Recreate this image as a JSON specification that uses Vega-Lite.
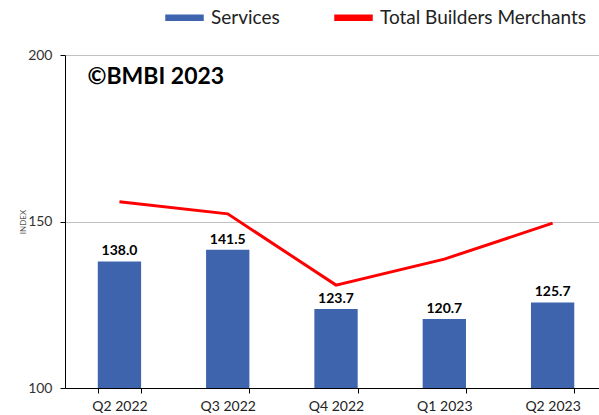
{
  "$schema": "https://vega.github.io/schema/vega-lite/v6.json",
  "width": 534,
  "height": 333,
  "autosize": "none",
  "padding": {"left": 65, "top": 55, "right": 0, "bottom": 27},
  "background": "white",
  "config": {"font": "Lato", "view": {"stroke": null}},
  "data": {"values": [
    {"quarter": "Q2 2022", "services": 138.0, "total": 155.9},
    {"quarter": "Q3 2022", "services": 141.5, "total": 152.3},
    {"quarter": "Q4 2022", "services": 123.7, "total": 130.9},
    {"quarter": "Q1 2023", "services": 120.7, "total": 138.7},
    {"quarter": "Q2 2023", "services": 125.7, "total": 149.5}
  ]},
  "encoding": {
    "x": {"field": "quarter", "type": "nominal", "sort": null,
      "scale": {"domain": ["Q2 2022", "Q3 2022", "Q4 2022", "Q1 2023", "Q2 2023"], "paddingInner": 0.6, "paddingOuter": 0.2655, "align": 0.57},
      "axis": {"title": null, "labelAngle": 0, "labelFontSize": 14, "labelColor": "#222", "labelPadding": 6, "domainColor": "#000", "tickColor": "#000", "tickSize": 5, "tickBand": "extent", "grid": false}}
  },
  "layer": [
    {
      "mark": {"type": "bar"},
      "encoding": {
        "y": {"field": "services", "type": "quantitative",
          "scale": {"domain": [100, 200]},
          "axis": {"values": [100, 150, 200], "title": "INDEX", "titleFontSize": 8, "titleFontWeight": "normal", "titleColor": "#555", "titlePadding": 0, "labelFontSize": 14, "labelColor": "#333", "labelPadding": 8, "domainColor": "#000", "tickColor": "#000", "tickSize": 5, "grid": true, "gridColor": "#C0C0C0"}},
        "y2": {"datum": 100},
        "color": {"datum": "Services", "type": "nominal",
          "scale": {"domain": ["Services", "Total Builders Merchants"], "range": ["#3F64AE", "#FF0000"]},
          "legend": {"title": null, "orient": "none", "legendX": 100, "legendY": -57, "direction": "horizontal", "labelFontSize": 19, "labelLimit": 400, "labelColor": "#222", "symbolType": "M-1,-0.13L1,-0.13L1,0.13L-1,0.13Z", "symbolSize": 1369, "columnPadding": 52, "labelOffset": 7,
            "encode": {"symbols": {"update": {"fill": {"scale": "color", "field": "value"}, "stroke": {"value": "transparent"}}}}}}
      }
    },
    {
      "mark": {"type": "text", "dy": -10, "fontSize": 14, "fontWeight": "bold", "color": "#000"},
      "encoding": {
        "y": {"field": "services", "type": "quantitative"},
        "text": {"field": "services", "type": "quantitative", "format": ".1f"}
      }
    },
    {
      "mark": {"type": "line", "strokeWidth": 3},
      "encoding": {
        "y": {"field": "total", "type": "quantitative"},
        "color": {"datum": "Total Builders Merchants", "type": "nominal"}
      }
    },
    {
      "data": {"values": [{"label": "©BMBI 2023"}]},
      "mark": {"type": "text", "align": "left", "baseline": "alphabetic", "dx": -32, "fontSize": 23, "fontWeight": "bold", "color": "#000"},
      "encoding": {
        "x": {"datum": "Q2 2022"},
        "y": {"datum": 191.3},
        "text": {"field": "label"}
      }
    }
  ]
}
